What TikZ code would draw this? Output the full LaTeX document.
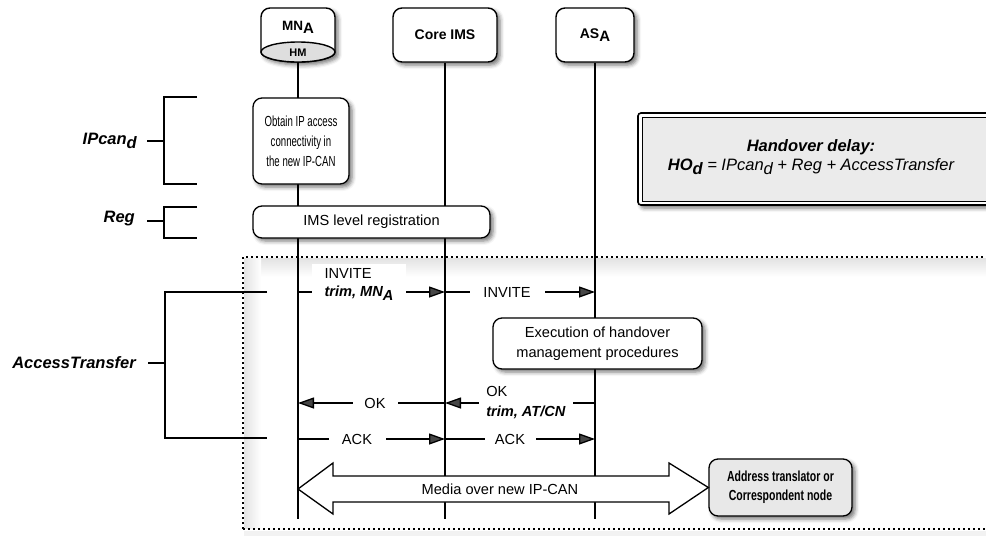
\documentclass[tikz,border=0pt]{standalone}
\usepackage{fontspec}
\setmainfont{Liberation Sans}
\newfontfamily\narrowsans[FakeStretch=0.66]{Liberation Sans}
\newfontfamily\semisans[FakeStretch=0.72]{Liberation Sans}
\usetikzlibrary{arrows.meta,shadows,shadows.blur}
\newcommand\lowsub[1]{\raisebox{-0.45ex}{#1}}
\begin{document}
\begin{tikzpicture}[x=1pt,y=-1pt,
  txt/.style={font=\fontsize{14.6}{19}\selectfont, inner sep=0pt},
  soft/.style={blur shadow={shadow xshift=3pt, shadow yshift=-3pt, shadow blur radius=4pt, shadow opacity=55}},
  actor/.style={draw, line width=1.4pt, rounded corners=9pt, fill=white, soft,
    font=\bfseries\fontsize{14}{17}\selectfont},
  stepbox/.style={draw, line width=1.3pt, rounded corners=9pt, fill=white, soft,
    align=center, txt},
  lifeline/.style={line width=1.3pt},
  msg/.style={line width=1.3pt, -{Triangle[length=16pt,width=11pt]}},
  msglabel/.style={fill=white, align=left, inner ysep=4pt, inner xsep=0pt,
    font=\fontsize{14.6}{18.5}\selectfont},
  brace/.style={line width=1.3pt},
  sidelabel/.style={anchor=east, inner sep=0pt,
    font=\bfseries\itshape\fontsize{16.5}{19}\selectfont},
]
\useasboundingbox (0,0) rectangle (986,536);

% haze around the access-transfer frame
\shade[top color=black!11, bottom color=white] (244,258) rectangle (1000,277);
\shade[left color=black!11, right color=white] (244,258) rectangle (261,528);
\fill[black!5] (244,531) rectangle (1000,536);

% header boxes
\node[actor, minimum width=104pt, minimum height=54pt] (core) at (445,35) {Core IMS};
\node[actor, minimum width=78pt, minimum height=54pt] (as) at (595,35)
  {AS\lowsub{\fontsize{15}{17}\selectfont A}};

% mobile node: rounded top with a handover-module disc at its foot
\path[draw, fill=white, line width=1.4pt, soft, rounded corners=9pt]
  (261,52) -- (261,8) -- (335,8) [sharp corners] -- (335,52)
  arc[start angle=0, end angle=180, x radius=37, y radius=10] -- cycle;
\draw[fill=black!13, line width=1.4pt] (298,52) ellipse[x radius=37, y radius=10];
\node[inner sep=0pt, font=\bfseries\fontsize{13.5}{16}\selectfont] (mn) at (298,27)
  {MN\lowsub{\fontsize{15}{17}\selectfont A}};
\node[inner sep=0pt, font=\bfseries\fontsize{11}{13}\selectfont] (hm) at (298,53) {HM};

% lifeline ends
\coordinate (mnend) at (298,519);
\coordinate (coreend) at (445,519);
\coordinate (asend) at (595,519);
\coordinate (mntop) at (298,62);

\draw[lifeline] (mntop) -- (mnend);
\draw[lifeline] (core.south) -- (coreend);
\draw[lifeline] (as.south) -- (asend);

% phase brackets
\draw[brace] (197,97) -- (164,97) -- (164,184) -- (197,184);
\draw[brace] (147,141) -- (164,141);
\node[sidelabel] (ipcan) at (137,141) {IPcan\lowsub{d}};

\draw[brace] (197,207) -- (164,207) -- (164,238) -- (197,238);
\draw[brace] (147,221) -- (164,221);
\node[sidelabel] (reg) at (135,219) {Reg};

\draw[brace] (267,292) -- (165,292) -- (165,438) -- (267,438);
\draw[brace] (148,363) -- (165,363);
\node[sidelabel] (at) at (136,363) {AccessTransfer};

% procedure boxes
\node[stepbox, minimum width=96pt, minimum height=86pt,
  font=\narrowsans\fontsize{14.6}{20}\selectfont] (obtain) at (301,141)
  {Obtain IP access\\connectivity in\\the new IP-CAN};
\node[stepbox, minimum width=237pt, minimum height=32pt] (imsreg) at (371.5,222)
  {IMS level registration};
\node[stepbox, minimum width=209pt, minimum height=51pt,
  font=\fontsize{14.6}{20}\selectfont] (exec) at (597.5,343.5)
  {Execution of handover\\management procedures};

% signalling
\coordinate (inv1a) at (298,292);  \coordinate (inv1b) at (445,292);
\coordinate (inv2a) at (445,292);  \coordinate (inv2b) at (595,292);
\coordinate (ok1a) at (445,403);   \coordinate (ok1b) at (298,403);
\coordinate (ok2a) at (595,403);   \coordinate (ok2b) at (445,403);
\coordinate (ack1a) at (298,439);  \coordinate (ack1b) at (445,439);
\coordinate (ack2a) at (445,439);  \coordinate (ack2b) at (595,439);

\draw[msg] (inv1a) -- (inv1b);
\draw[msg] (inv2a) -- (inv2b);
\draw[msg] (ok1a) -- (ok1b);
\draw[msg] (ok2a) -- (ok2b);
\draw[msg] (ack1a) -- (ack1b);
\draw[msg] (ack2a) -- (ack2b);

\node[msglabel, minimum width=94pt] (inv1lbl) at (359,284)
  {INVITE\\\textbf{\textit{trim, MN\lowsub{A}}}};
\node[msglabel, minimum width=75pt, align=center] (inv2lbl) at (507,292) {INVITE};
\node[msglabel, minimum width=45pt, align=center] (ok1lbl) at (375,403) {OK};
\node[msglabel, minimum width=94pt, font=\fontsize{14.6}{20}\selectfont] (ok2lbl) at (526,403)
  {OK\\\textbf{\textit{trim, AT/CN}}};
\node[msglabel, minimum width=57pt, align=center] (ack1lbl) at (357,439) {ACK};
\node[msglabel, minimum width=51pt, align=center] (ack2lbl) at (510,439) {ACK};

% media path to the far end
\node[stepbox, fill=black!9, minimum width=143pt, minimum height=57pt,
  font=\semisans\bfseries\fontsize{14.6}{19}\selectfont] (cn) at (780.5,487.5)
  {Address translator or\\Correspondent node};
\path[draw, fill=white, line width=1.3pt, line join=miter]
  (mnend |- 0,489) -- (333,463) -- (333,476) -- (669,476) -- (669,463)
  -- (cn.west) -- (669,514) -- (669,502) -- (333,502) -- (333,514) -- cycle;
\node[txt] (media) at (500,489) {Media over new IP-CAN};

% handover delay summary
\draw[line width=1.6pt, rounded corners=3pt, fill=white, soft] (638,113) rectangle (1000,205);
\draw[line width=0.8pt, fill=black!8] (642,117) rectangle (1000,201);
\node[inner sep=0pt, align=center, font=\itshape\fontsize{16.5}{18.5}\selectfont] (hod) at (811,157)
  {\textbf{Handover delay:}\\\textbf{HO\lowsub{d}} = IPcan\lowsub{d} + Reg + AccessTransfer};

% access-transfer frame
\draw[line width=1.4pt, dash pattern=on 1.6pt off 3.4pt] (243,529) -- (243,257) -- (1000,257);
\draw[line width=1.4pt, dash pattern=on 1.6pt off 3.4pt] (243,529) -- (1000,529);
\end{tikzpicture}
\end{document}
